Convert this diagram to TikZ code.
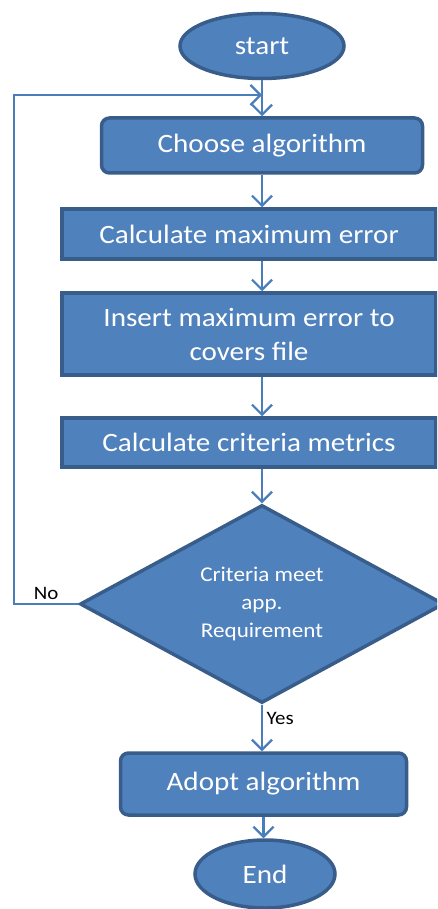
\documentclass[tikz,border=0pt]{standalone}
\usepackage{fontspec}
\setmainfont{Carlito}[FakeStretch=1.1]
\usetikzlibrary{shapes.geometric,arrows.meta}
\definecolor{boxfill}{HTML}{4F81BD}
\definecolor{boxline}{HTML}{385D8A}
\definecolor{arrline}{HTML}{4A7EBB}
\begin{document}
\begin{tikzpicture}[x=1pt, y=-1pt,
  every node/.style={font=\fontsize{26.5}{34}\selectfont, text=white, align=center},
  blk/.style={draw=boxline, fill=boxfill, line width=3.5pt, inner sep=0pt},
  term/.style={blk, ellipse},
  arr/.style={draw=arrline, line width=2.4pt, -{Straight Barb[length=10pt, width=20pt, line width=2.2pt]}},
  lbl/.style={font=\fontsize{19}{21}\selectfont, text=black}]
  \clip (0,0) rectangle (437,909);

  \node[term, minimum width=164pt, minimum height=65pt] (start) at (262,46) {start};
  \node[blk, rounded corners=8pt, minimum width=321pt, minimum height=55pt] (choose) at (262,145.5) {Choose algorithm};
  \node[blk, minimum width=374pt, minimum height=50pt] (maxerr) at (249,234) {Calculate maximum error};
  \node[blk, minimum width=374pt, minimum height=82pt] (insert) at (249,334) {Insert maximum error to\\covers file};
  \node[blk, minimum width=374pt, minimum height=49pt] (metrics) at (249,442.5) {Calculate criteria metrics};
  \node[blk, diamond, aspect=1.84, minimum width=364pt, minimum height=198pt,
        font=\fontsize{21}{28}\selectfont] (check) at (262,604) {Criteria meet\\app.\\Requirement};
  \node[blk, rounded corners=8pt, minimum width=286pt, minimum height=62pt] (adopt) at (263.5,784) {Adopt algorithm};
  \node[term, minimum width=140pt, minimum height=68pt] (end) at (265,874) {End};

  \coordinate (corner) at (14,95);
  \coordinate (join) at (262,95);

  \draw[arr] (start.south) -- (start.south |- choose.north);
  \draw[arr] (choose.south) -- (choose.south |- maxerr.north);
  \draw[arr] (choose.south |- maxerr.south) -- (choose.south |- insert.north);
  \draw[arr] (choose.south |- insert.south) -- (choose.south |- metrics.north);
  \draw[arr] (check.north |- metrics.south) -- (check.north);
  \draw[arr] (check.south) -- (check.south |- adopt.north) node[lbl, pos=0.3, right] {Yes};
  \draw[arr] (adopt.south) -- (adopt.south |- end.north);
  \draw[arr, line width=1.8pt] (check.west) -- (corner |- check.west) node[lbl, pos=0.5, above] {No}
    -- (corner) -- (join);
\end{tikzpicture}
\end{document}
